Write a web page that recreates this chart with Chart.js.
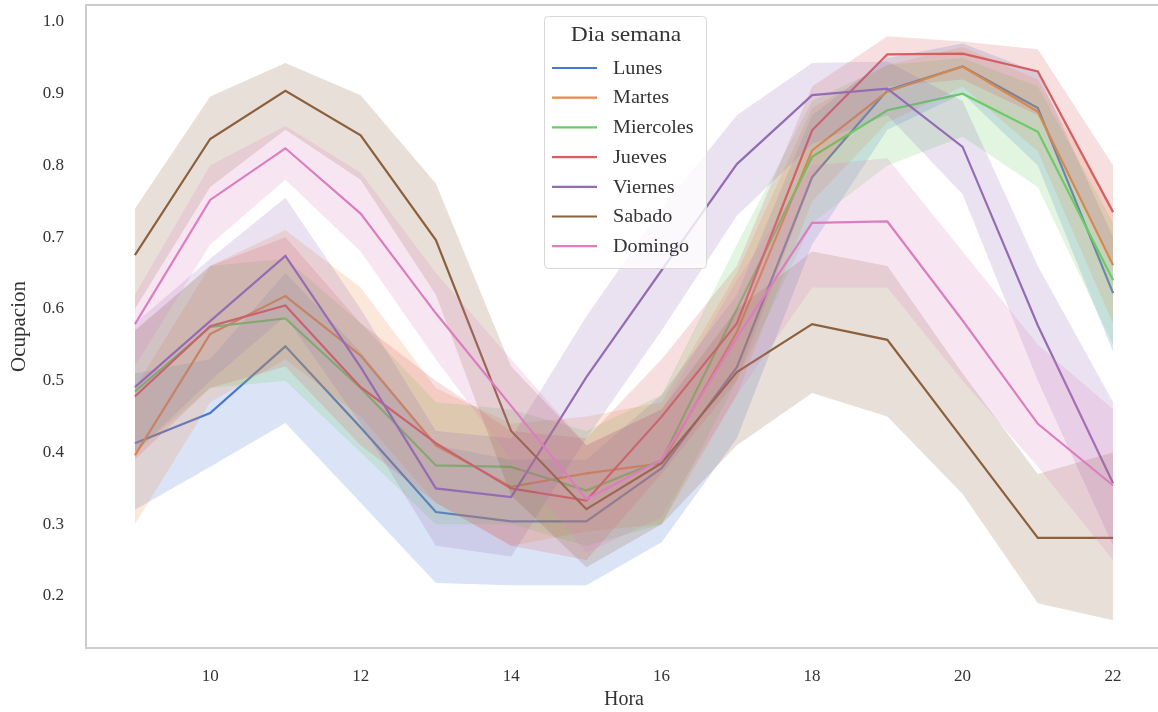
<!DOCTYPE html>
<html>
<head>
<meta charset="utf-8">
<script src="https://cdn.jsdelivr.net/npm/chart.js@4.4.1/dist/chart.umd.min.js"></script>
<style>
  html, body { margin: 0; padding: 0; background: #ffffff; overflow: hidden; }
  #wrap { width: 1166px; height: 712px; position: relative; }
</style>
</head>
<body>
<div id="wrap"><canvas id="c" width="1166" height="712"></canvas></div>
<script>
// ---------- data ----------
const hours = [9,10,11,12,13,14,15,16,17,18,19,20,21,22];
const xTicks = [10,12,14,16,18,20,22];
const yTicks = [0.2,0.3,0.4,0.5,0.6,0.7,0.8,0.9,1.0];
const dayNames = ["Lunes","Martes","Miercoles","Jueves","Viernes","Sabado","Domingo"];
const dayColors = ["#4878d0","#ee854a","#6acc64","#d65f5f","#956cb4","#8c613c","#dc7ec0"];

const lunesMean  = [0.413,0.455,0.548,0.435,0.317,0.304,0.304,0.378,0.519,0.784,0.905,0.938,0.880,0.622];
const lunesLow   = [0.320,0.380,0.441,0.330,0.218,0.215,0.215,0.275,0.420,0.690,0.850,0.900,0.800,0.540];
const lunesHigh  = [0.510,0.530,0.650,0.540,0.410,0.390,0.390,0.480,0.620,0.870,0.950,0.970,0.930,0.700];

const martesMean = [0.396,0.565,0.618,0.535,0.410,0.352,0.371,0.385,0.568,0.821,0.903,0.938,0.875,0.661];
const martesLow  = [0.300,0.470,0.530,0.450,0.330,0.270,0.290,0.300,0.480,0.750,0.860,0.910,0.820,0.580];
const martesHigh = [0.490,0.660,0.710,0.630,0.490,0.440,0.450,0.470,0.650,0.880,0.940,0.965,0.920,0.740];

const miercMean  = [0.485,0.575,0.587,0.490,0.382,0.380,0.347,0.389,0.600,0.812,0.877,0.900,0.847,0.640];
const miercLow   = [0.400,0.490,0.500,0.400,0.300,0.300,0.270,0.300,0.500,0.720,0.800,0.840,0.770,0.550];
const miercHigh  = [0.570,0.660,0.670,0.580,0.470,0.460,0.430,0.480,0.690,0.890,0.940,0.950,0.910,0.720];

const juevesMean = [0.478,0.576,0.605,0.491,0.413,0.350,0.333,0.450,0.580,0.849,0.955,0.956,0.931,0.735];
const juevesLow  = [0.390,0.490,0.520,0.410,0.330,0.270,0.250,0.370,0.500,0.780,0.910,0.920,0.870,0.660];
const juevesHigh = [0.570,0.660,0.700,0.580,0.500,0.430,0.420,0.530,0.660,0.910,0.980,0.973,0.962,0.800];

const viernesMean= [0.491,0.583,0.674,0.519,0.350,0.338,0.505,0.654,0.802,0.898,0.907,0.826,0.577,0.357];
const viernesLow = [0.400,0.500,0.590,0.440,0.270,0.255,0.420,0.570,0.730,0.830,0.870,0.760,0.500,0.270];
const viernesHigh= [0.580,0.670,0.755,0.600,0.430,0.420,0.590,0.740,0.870,0.943,0.945,0.890,0.660,0.470];

const sabadoMean = [0.675,0.837,0.904,0.842,0.696,0.430,0.321,0.385,0.512,0.579,0.557,0.419,0.281,0.281];
const sabadoLow  = [0.600,0.770,0.850,0.780,0.620,0.340,0.240,0.300,0.410,0.483,0.450,0.342,0.190,0.166];
const sabadoHigh = [0.740,0.896,0.943,0.898,0.775,0.520,0.410,0.460,0.600,0.680,0.660,0.510,0.370,0.400];

const domingoMean= [0.579,0.752,0.824,0.733,0.594,0.465,0.335,0.390,0.560,0.720,0.722,0.584,0.440,0.354];
const domingoLow = [0.520,0.690,0.780,0.680,0.530,0.390,0.260,0.310,0.480,0.630,0.630,0.500,0.380,0.250];
const domingoHigh= [0.620,0.800,0.855,0.790,0.650,0.530,0.410,0.460,0.640,0.800,0.810,0.680,0.550,0.460];

const means = [lunesMean, martesMean, miercMean, juevesMean, viernesMean, sabadoMean, domingoMean];
const lows  = [lunesLow, martesLow, miercLow, juevesLow, viernesLow, sabadoLow, domingoLow];
const highs = [lunesHigh, martesHigh, miercHigh, juevesHigh, viernesHigh, sabadoHigh, domingoHigh];

// ---------- helpers ----------
function pts(arr) { return hours.map((h, i) => ({ x: h, y: arr[i] })); }
function rgba(hex, a) {
  const n = parseInt(hex.slice(1), 16);
  return `rgba(${(n >> 16) & 255},${(n >> 8) & 255},${n & 255},${a})`;
}

const datasets = [];
dayNames.forEach((name, i) => {
  const col = dayColors[i];
  const base = 1000 - 10 * i;
  datasets.push({
    label: name, isMain: true, data: pts(means[i]),
    borderColor: col, backgroundColor: col, borderWidth: 2.2,
    pointRadius: 0, tension: 0, fill: false, order: base
  });
  datasets.push({
    label: name + "_low", data: pts(lows[i]),
    borderWidth: 0, borderColor: 'rgba(0,0,0,0)', pointRadius: 0, tension: 0,
    fill: false, order: base - 5
  });
  datasets.push({
    label: name + "_high", data: pts(highs[i]),
    borderWidth: 0, borderColor: 'rgba(0,0,0,0)', pointRadius: 0, tension: 0,
    fill: '-1', backgroundColor: rgba(col, 0.2), order: base - 5
  });
});

const serif = "'Liberation Serif', 'DejaVu Serif', serif";
const textColor = '#333333';

const framePlugin = {
  id: 'frame',
  afterDraw(chart) {
    const { ctx, chartArea: a } = chart;
    ctx.save();
    ctx.strokeStyle = '#cccccc';
    ctx.lineWidth = 2;
    ctx.strokeRect(a.left, a.top, a.right - a.left, a.bottom - a.top);
    ctx.restore();
  }
};

const legendPlugin = {
  id: 'customLegend',
  afterDraw(chart) {
    const { ctx } = chart;
    const mains = chart.data.datasets.filter(d => d.isMain);
    const x0 = 544, y0 = 16, w = 162, h = 252;
    const sx = 1.12;
    ctx.save();
    ctx.fillStyle = 'rgba(255,255,255,0.8)';
    ctx.strokeStyle = '#d6d6d6';
    ctx.lineWidth = 1;
    ctx.beginPath();
    ctx.roundRect(x0 + 0.5, y0 + 0.5, w, h, 4);
    ctx.fill();
    ctx.stroke();
    ctx.textBaseline = 'middle';
    // title
    ctx.save();
    ctx.translate(x0 + w / 2 + 1, y0 + 19);
    ctx.scale(sx, 1);
    ctx.fillStyle = textColor;
    ctx.textAlign = 'center';
    ctx.font = `21px ${serif}`;
    ctx.fillText('Dia semana', 0, 0);
    ctx.restore();
    mains.forEach((d, i) => {
      const y = 68 + i * 29.7;
      ctx.strokeStyle = d.borderColor;
      ctx.lineWidth = 2.2;
      ctx.beginPath();
      ctx.moveTo(552, y);
      ctx.lineTo(597, y);
      ctx.stroke();
      ctx.save();
      ctx.translate(613, y + 1);
      ctx.scale(sx, 1);
      ctx.fillStyle = textColor;
      ctx.textAlign = 'left';
      ctx.font = `18px ${serif}`;
      ctx.fillText(d.label, 0, 0);
      ctx.restore();
    });
    ctx.restore();
  }
};

new Chart(document.getElementById('c'), {
  type: 'line',
  data: { datasets },
  plugins: [framePlugin, legendPlugin],
  options: {
    responsive: false,
    animation: false,
    layout: { padding: { top: 5, right: 4, left: 0, bottom: 0 } },
    plugins: {
      legend: { display: false },
      tooltip: { enabled: false },
      filler: { propagate: false }
    },
    scales: {
      x: {
        type: 'linear', min: 8.35, max: 22.65,
        grid: { display: false, drawTicks: false }, border: { display: false },
        afterBuildTicks: s => { s.ticks = xTicks.map(v => ({ value: v })); },
        afterFit: s => { s.height = 64; s.paddingLeft = 0; s.paddingRight = 0; },
        ticks: { color: textColor, font: { family: serif, size: 17 }, padding: 18, maxRotation: 0,
                 callback: v => String(v) },
        title: { display: true, text: 'Hora', color: textColor, font: { family: serif, size: 20 },
                 padding: { top: 0, bottom: 0 } }
      },
      y: {
        type: 'linear', min: 0.1275, max: 1.0237,
        grid: { display: false, drawTicks: false }, border: { display: false },
        afterBuildTicks: s => { s.ticks = yTicks.map(v => ({ value: v })); },
        afterFit: s => { s.width = 86; s.paddingTop = 0; s.paddingBottom = 0; },
        ticks: { color: textColor, font: { family: serif, size: 17 }, padding: 22,
                 callback: v => Number(v).toFixed(1) },
        title: { display: true, text: 'Ocupacion', color: textColor, font: { family: serif, size: 21 },
                 padding: { top: 7, bottom: 0 } }
      }
    }
  }
});
</script>
</body>
</html>
